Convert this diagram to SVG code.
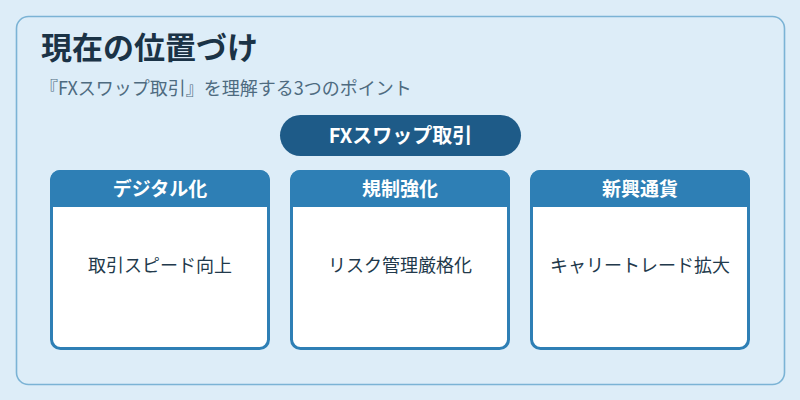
<svg xmlns="http://www.w3.org/2000/svg" width="800" height="400" viewBox="0 0 800 400">
<style>
text{font-family:"Noto Sans CJK JP","Noto Sans",sans-serif}
.title{font-size:31px;font-weight:700;fill:#1b3346}
.sub{font-size:18px;fill:#4e6b80}
.pilltxt{font-size:20px;font-weight:700;fill:#ffffff;text-anchor:middle}
.htxt{font-size:19px;font-weight:700;fill:#ffffff;text-anchor:middle}
.btxt{font-size:18px;fill:#22394b;text-anchor:middle}
.card{fill:#ffffff;stroke:#2e7fb5;stroke-width:3}
.head{fill:#2e7fb5}
</style>
<rect x="0" y="0" width="800" height="400" fill="#ddedf8"/>
<rect x="16.5" y="16.5" width="768" height="368" rx="12" fill="#ddedf8" stroke="#7bb3d5" stroke-width="1.6"/>
<text class="title" x="41" y="59">現在の位置づけ</text>
<text class="sub" x="40" y="95">『FXスワップ取引』を理解する3つのポイント</text>
<g id="root">
<rect x="280" y="115" width="241" height="41" rx="20.5" fill="#1e5b88"/>
<text class="pilltxt" x="400.5" y="143">FXスワップ取引</text>
</g>
<g id="connectors"></g>
<g id="card1">
<rect class="card" x="51.5" y="171.5" width="217" height="177" rx="9"/>
<path class="head" d="M50,207 V180 A10,10 0 0 1 60,170 H260 A10,10 0 0 1 270,180 V207 Z"/>
<text class="htxt" x="160" y="195.5">デジタル化</text>
<text class="btxt" x="160" y="272">取引スピード向上</text>
</g>
<g id="card2">
<rect class="card" x="291.5" y="171.5" width="217" height="177" rx="9"/>
<path class="head" d="M290,207 V180 A10,10 0 0 1 300,170 H500 A10,10 0 0 1 510,180 V207 Z"/>
<text class="htxt" x="400" y="195.5">規制強化</text>
<text class="btxt" x="400" y="272">リスク管理厳格化</text>
</g>
<g id="card3">
<rect class="card" x="531.5" y="171.5" width="217" height="177" rx="9"/>
<path class="head" d="M530,207 V180 A10,10 0 0 1 540,170 H740 A10,10 0 0 1 750,180 V207 Z"/>
<text class="htxt" x="640" y="195.5">新興通貨</text>
<text class="btxt" x="640" y="272">キャリートレード拡大</text>
</g>
</svg>
